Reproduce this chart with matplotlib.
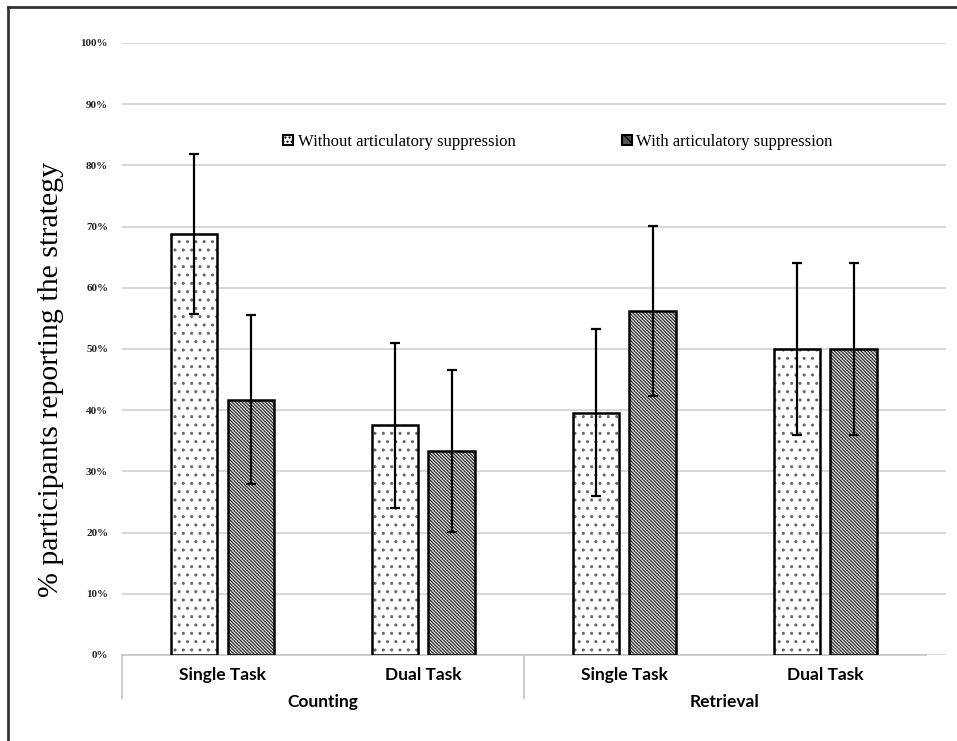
import numpy as np
import matplotlib
matplotlib.use("Agg")
import matplotlib.pyplot as plt
from matplotlib.lines import Line2D
from matplotlib.patches import Patch

plt.rcParams['hatch.linewidth'] = 1.0

# data
conditions = ["Single Task", "Dual Task", "Single Task", "Dual Task"]
groups = ["Counting", "Retrieval"]
without_vals = [68.75, 37.5, 39.6, 50.0]
without_err = [13.1, 13.5, 13.6, 14.0]
with_vals = [41.7, 33.3, 56.25, 50.0]
with_err = [13.8, 13.2, 13.9, 14.0]
yticks = np.arange(0, 101, 10)

dots = '..'
stripes = '\\' * 10

fig = plt.figure(figsize=(9.57, 7.41), dpi=100)
ax = fig.add_axes([0.1275, 0.1161, 0.861, 0.826])

x = np.arange(len(conditions))
w = 0.23
off = 0.14

# hatch fill first (edge colour sets hatch colour), then black outlines
ax.bar(x - off, without_vals, w, facecolor='white', edgecolor='#666666', linewidth=0,
       hatch=dots, zorder=3)
ax.bar(x + off, with_vals, w, facecolor='white', edgecolor='#333333', linewidth=0,
       hatch=stripes, zorder=3)
ax.bar(x - off, without_vals, w, fill=False, edgecolor='black', linewidth=1.8, zorder=3)
ax.bar(x + off, with_vals, w, fill=False, edgecolor='black', linewidth=1.8, zorder=3)
ax.errorbar(x - off, without_vals, yerr=without_err, fmt='none', ecolor='black',
            elinewidth=1.6, capsize=3.5, capthick=1.6, zorder=4)
ax.errorbar(x + off, with_vals, yerr=with_err, fmt='none', ecolor='black',
            elinewidth=1.6, capsize=3.5, capthick=1.6, zorder=4)

ax.set_xlim(-0.5, 3.6)
ax.set_ylim(0, 100)
ax.set_yticks(yticks)
ax.set_yticklabels([f"{v}%" for v in yticks], fontsize=8, family='Liberation Serif',
                   color='#222222', fontweight='bold')
ax.yaxis.grid(True, color='#d4d4d4', linewidth=1.3, zorder=0)
ax.set_axisbelow(True)
ax.tick_params(axis='y', length=0, pad=10)
ax.tick_params(axis='x', length=0)
ax.set_xticks([])
for s in ax.spines.values():
    s.set_visible(False)

# baseline and group separators
ax.plot([-0.5, 3.5], [0, 0], color='#c8c8c8', linewidth=1.3, zorder=2, clip_on=False)
trans = ax.get_xaxis_transform()
for xs in [-0.5, 1.5]:
    ax.add_line(Line2D([xs, xs], [0, -0.07], transform=trans, color='#c8c8c8',
                       linewidth=1.3, clip_on=False))

for i, c in enumerate(conditions):
    ax.text(i, -0.02, c, transform=trans, ha='center', va='top', fontsize=12.5,
            family='Lato', fontweight='bold')
for j, g in enumerate(groups):
    ax.text(0.5 + 2 * j, -0.063, g, transform=trans, ha='center', va='top', fontsize=12.5,
            family='Lato', fontweight='bold')

ax.set_ylabel("% participants reporting the strategy", fontsize=21.5,
              family='Liberation Serif')
ax.yaxis.set_label_coords(-0.07, 0.45)

handles = [Patch(facecolor='white', edgecolor='black', hatch='....', linewidth=1.5),
           Patch(facecolor='#555555', edgecolor='black', hatch='\\\\\\', linewidth=1.5)]
ax.legend(handles, ["Without articulatory suppression", "With articulatory suppression"],
          ncol=2, loc='center', bbox_to_anchor=(0.529, 0.838), frameon=False,
          prop={'family': 'Liberation Serif', 'size': 12}, handlelength=0.6,
          handleheight=0.6, handletextpad=0.25, columnspacing=6.4)

# outer frame (top and left)
fig.add_artist(Line2D([0.0085, 1.0], [0.9905, 0.9905], color='#333333', linewidth=2))
fig.add_artist(Line2D([0.0085, 0.0085], [0.0, 0.9905], color='#333333', linewidth=2))

fig.savefig("out.png", dpi=100)
